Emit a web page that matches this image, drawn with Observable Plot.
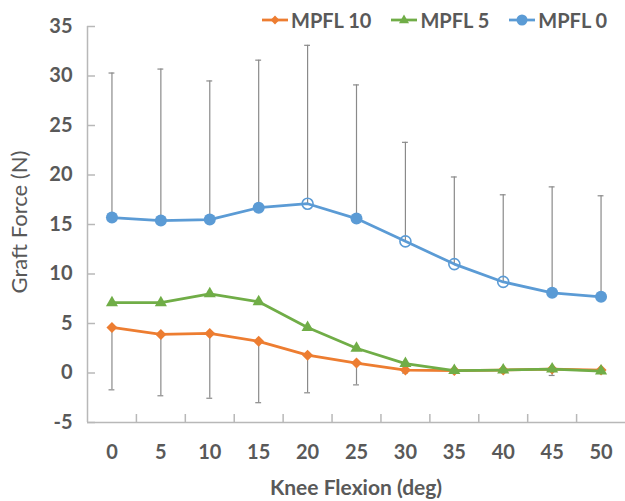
<!DOCTYPE html>
<html><head><meta charset="utf-8">
<script src="https://cdn.jsdelivr.net/npm/d3@7"></script>
<script src="https://cdn.jsdelivr.net/npm/@observablehq/plot@0.6"></script>
<style>
body{margin:0;background:#fff;font-family:Lato,"Open Sans",sans-serif;}
#wrap{position:relative;width:625px;height:501px;overflow:hidden;}
#wrap svg{position:absolute;left:0;top:0;}
#legend{position:absolute;top:8px;left:262px;display:flex;align-items:center;font-weight:bold;font-size:20px;color:#595959;white-space:nowrap;width:363px;}
#legend .item{display:flex;align-items:center;margin-right:20px;flex:none;}
#legend .item svg{position:static;margin-right:3px;flex:none;}
#xtitle{position:absolute;left:87px;width:538px;top:474px;text-align:center;font-weight:bold;font-size:21px;color:#595959;line-height:26px;}
#ytitle{position:absolute;left:19px;top:222px;transform:translate(-50%,-50%) rotate(-90deg);white-space:nowrap;font-size:22px;color:#595959;line-height:26px;}
</style></head><body>
<div id="wrap"></div>
<script>
const angles = [0, 5, 10, 15, 20, 25, 30, 35, 40, 45, 50];
const mpfl10 = [4.6, 3.9, 4.0, 3.2, 1.8, 1.0, 0.3, 0.25, 0.3, 0.4, 0.3];
const mpfl10Lower = [-1.7, -2.3, -2.55, -3.0, -2.0, -1.2, 0.0, 0.15, 0.2, -0.25, 0.2];
const mpfl5 = [7.1, 7.1, 8.0, 7.2, 4.6, 2.5, 0.95, 0.25, 0.3, 0.4, 0.2];
const mpfl0 = [15.7, 15.4, 15.5, 16.7, 17.1, 15.6, 13.3, 11.0, 9.2, 8.1, 7.7];
const mpfl0Upper = [30.3, 30.7, 29.5, 31.6, 33.1, 29.1, 23.3, 19.8, 18.0, 18.8, 17.9];
const mpfl0Open = [false, false, false, false, true, false, true, true, true, false, false];
const seriesNames = ["MPFL 10", "MPFL 5", "MPFL 0"];
const seriesColors = ["#ED7D31", "#70AD47", "#5B9BD5"];
const yTicks = [-5, 0, 5, 10, 15, 20, 25, 30, 35];
const xLabel = "Knee Flexion (deg)";
const yLabel = "Graft Force (N)";

const d10 = angles.map((a, i) => ({angle: a, mean: mpfl10[i], lower: mpfl10Lower[i]}));
const d5 = angles.map((a, i) => ({angle: a, mean: mpfl5[i]}));
const d0 = angles.map((a, i) => ({angle: a, mean: mpfl0[i], upper: mpfl0Upper[i], open: mpfl0Open[i]}));
const half = (angles[1] - angles[0]) / 2;
const bounds = angles.slice(1).map(a => a - half);
const xDomain = [angles[0] - half, angles[angles.length - 1] + half];
const capHalf = 0.3;
const axisColor = "#b8b8b8";
const errColor = "#8a8a8a";
const textColor = "#595959";
const fmt = d => String(d);

const chart = Plot.plot({
  width: 625,
  height: 501,
  marginTop: 26,
  marginBottom: 79,
  marginLeft: 87,
  marginRight: 0,
  x: {domain: xDomain, axis: null},
  y: {domain: [yTicks[0], yTicks[yTicks.length - 1]], axis: null},
  style: {fontFamily: "Lato, 'Open Sans', sans-serif", color: textColor, background: "#fff"},
  marks: [
    Plot.ruleY([yTicks[0]], {stroke: axisColor, strokeWidth: 1.5}),
    Plot.ruleX([xDomain[0]], {stroke: axisColor, strokeWidth: 1.5}),
    Plot.axisY(yTicks, {anchor: "left", tickSize: -8, stroke: axisColor, strokeWidth: 1.5, tickFormat: () => "", label: null}),
    Plot.axisY(yTicks, {anchor: "left", tickSize: 0, tickPadding: 15, fill: textColor, fontSize: 20, fontWeight: "bold", tickFormat: fmt, label: null}),
    Plot.axisX(bounds, {anchor: "bottom", tickSize: -8, stroke: axisColor, strokeWidth: 1.5, tickFormat: () => "", label: null}),
    Plot.axisX(angles, {anchor: "bottom", tickSize: 0, tickPadding: 22, fill: textColor, fontSize: 20, fontWeight: "bold", tickFormat: fmt, label: null}),
    // error bars
    Plot.ruleX(d0, {x: "angle", y1: "mean", y2: "upper", stroke: errColor, strokeWidth: 1.2}),
    Plot.ruleY(d0, {y: "upper", x1: d => d.angle - capHalf, x2: d => d.angle + capHalf, stroke: errColor, strokeWidth: 1.2}),
    Plot.ruleX(d10, {x: "angle", y1: "mean", y2: "lower", stroke: errColor, strokeWidth: 1.2}),
    Plot.ruleY(d10, {y: "lower", x1: d => d.angle - capHalf, x2: d => d.angle + capHalf, stroke: errColor, strokeWidth: 1.2}),
    // MPFL 10
    Plot.line(d10, {x: "angle", y: "mean", stroke: seriesColors[0], strokeWidth: 2.75}),
    Plot.dot(d10, {x: "angle", y: "mean", symbol: "square", rotate: 45, r: 4.4, fill: seriesColors[0], stroke: "none"}),
    // MPFL 5
    Plot.line(d5, {x: "angle", y: "mean", stroke: seriesColors[1], strokeWidth: 2.75}),
    Plot.dot(d5, {x: "angle", y: "mean", symbol: "triangle", r: 4.5, fill: seriesColors[1], stroke: "none"}),
    // MPFL 0
    Plot.line(d0, {x: "angle", y: "mean", stroke: seriesColors[2], strokeWidth: 2.75}),
    Plot.dot(d0.filter(d => !d.open), {x: "angle", y: "mean", r: 6, fill: seriesColors[2], stroke: "none"}),
    Plot.dot(d0.filter(d => d.open), {x: "angle", y: "mean", r: 5.5, fill: "none", stroke: seriesColors[2], strokeWidth: 1.6})
  ]
});

const wrap = document.getElementById("wrap");
wrap.appendChild(chart);

// legend
const legend = document.createElement("div");
legend.id = "legend";
const markerShapes = ["diamond", "triangle", "circle"];
seriesNames.forEach((name, i) => {
  const item = document.createElement("div");
  item.className = "item";
  const c = seriesColors[i];
  let marker;
  if (markerShapes[i] === "diamond") marker = `<rect x="9.9" y="3.9" width="6.2" height="6.2" fill="${c}" transform="rotate(45 13 7)"/>`;
  else if (markerShapes[i] === "triangle") marker = `<path d="M13,1.6 L18,10.3 L8,10.3 Z" fill="${c}"/>`;
  else marker = `<circle cx="13" cy="7" r="5.5" fill="${c}"/>`;
  item.innerHTML = `<svg width="26" height="14" viewBox="0 0 26 14"><line x1="0" y1="7" x2="26" y2="7" stroke="${c}" stroke-width="2.75"/>${marker}</svg><span>${name}</span>`;
  legend.appendChild(item);
});
wrap.appendChild(legend);

const xt = document.createElement("div");
xt.id = "xtitle"; xt.textContent = xLabel;
wrap.appendChild(xt);
const yt = document.createElement("div");
yt.id = "ytitle"; yt.textContent = yLabel;
wrap.appendChild(yt);
</script>
</body></html>
